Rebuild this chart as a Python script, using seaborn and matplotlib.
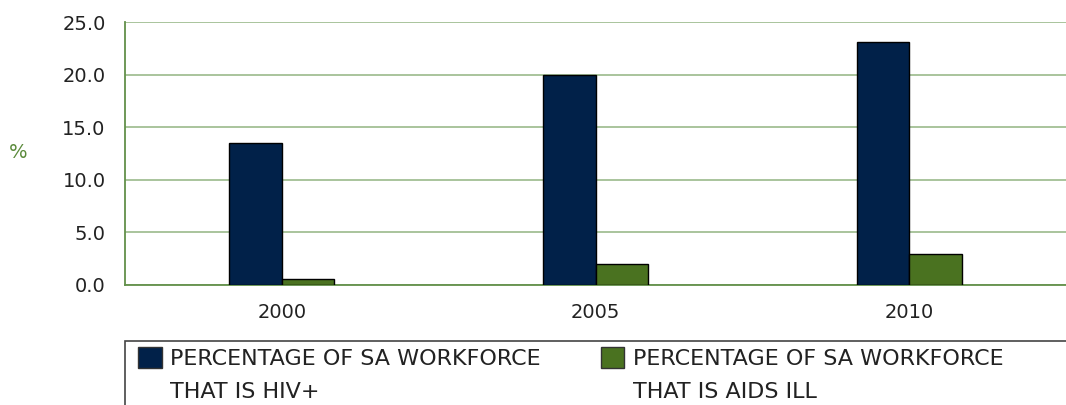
import matplotlib
matplotlib.use("Agg")
import matplotlib.pyplot as plt
import seaborn as sns
import pandas as pd
from matplotlib.patches import Rectangle, Patch

years = ["2000", "2005", "2010"]
hiv_positive = [13.5, 20.0, 23.1]
aids_ill = [0.6, 2.0, 2.9]
series_first = ["PERCENTAGE OF SA WORKFORCE", "PERCENTAGE OF SA WORKFORCE"]
series_second = ["THAT IS HIV+", "THAT IS AIDS ILL"]
series_names = [a + " " + b for a, b in zip(series_first, series_second)]
y_ticks = [0.0, 5.0, 10.0, 15.0, 20.0, 25.0]

navy = "#012149"
green = "#4a7220"
grid_green = "#a3bf94"
spine_green = "#62904a"
text_col = "#222222"

df = pd.DataFrame({
    "year": years * 2,
    "value": hiv_positive + aids_ill,
    "series": [series_names[0]] * 3 + [series_names[1]] * 3,
})

sns.set_style("white")
plt.rcParams["font.family"] = ["DejaVu Sans"]

W, H = 1066, 405
fig = plt.figure(figsize=(W / 100, H / 100), dpi=100)
ax = fig.add_axes([125 / W, 1 - 285 / H, 1 - 125 / W, (285 - 22) / H])

sns.barplot(data=df, x="year", y="value", hue="series", order=years,
            hue_order=series_names, palette=[navy, green], width=0.335,
            saturation=1, edgecolor="black", linewidth=1.0, ax=ax,
            legend=False, zorder=3)

ax.set_xlim(-0.5, 2.5)
ax.set_ylim(0, 25)
ax.set_yticks(y_ticks)
ax.set_yticklabels([f"{v:.1f}" for v in y_ticks], fontsize=14, color=text_col)
ax.yaxis.grid(True, color=grid_green, linewidth=1.3, zorder=0)
ax.set_axisbelow(True)
for s in ["top", "right"]:
    ax.spines[s].set_visible(False)
for s in ["left", "bottom"]:
    ax.spines[s].set_color(spine_green)
    ax.spines[s].set_linewidth(1.3)
ax.tick_params(axis="y", length=0, pad=14)
ax.tick_params(axis="x", which="major", length=0, pad=13, labelsize=14, labelcolor=text_col)
ax.set_xticks([0.5, 1.5], minor=True)
ax.tick_params(axis="x", which="minor", length=13, width=1, color=spine_green)
ax.set_xlabel("")
ax.set_ylabel("%", rotation=0, color="#5a8a3a", fontsize=14, va="center", ha="center")
ax.yaxis.set_label_coords(-107 / 941, (285 - 153) / 263)

# legend frame (cut off at the bottom like the reference)
fig.patches.append(Rectangle((125 / W, -0.2), 1.0, 0.2 + (H - 341) / H,
                             transform=fig.transFigure, fill=False,
                             edgecolor="#444444", linewidth=1.2))
handles = [Patch(facecolor=navy, edgecolor="#333333"),
           Patch(facecolor=green, edgecolor="#333333")]
leg = fig.legend(handles, series_first, loc="upper left", ncol=2,
                 bbox_to_anchor=(136 / W, 1 - 345 / H), frameon=False,
                 fontsize=16, handlelength=1.05, handleheight=1.05,
                 handletextpad=0.4, columnspacing=2.7, labelcolor=text_col,
                 borderaxespad=0, borderpad=0.1)

fig.canvas.draw()
renderer = fig.canvas.get_renderer()
for t, second in zip(leg.get_texts(), series_second):
    bb = t.get_window_extent(renderer)
    fig.text(bb.x0 / W, 1 - 398 / H, second, fontsize=16, color=text_col,
             ha="left", va="baseline")

fig.savefig("out.png", dpi=100)
